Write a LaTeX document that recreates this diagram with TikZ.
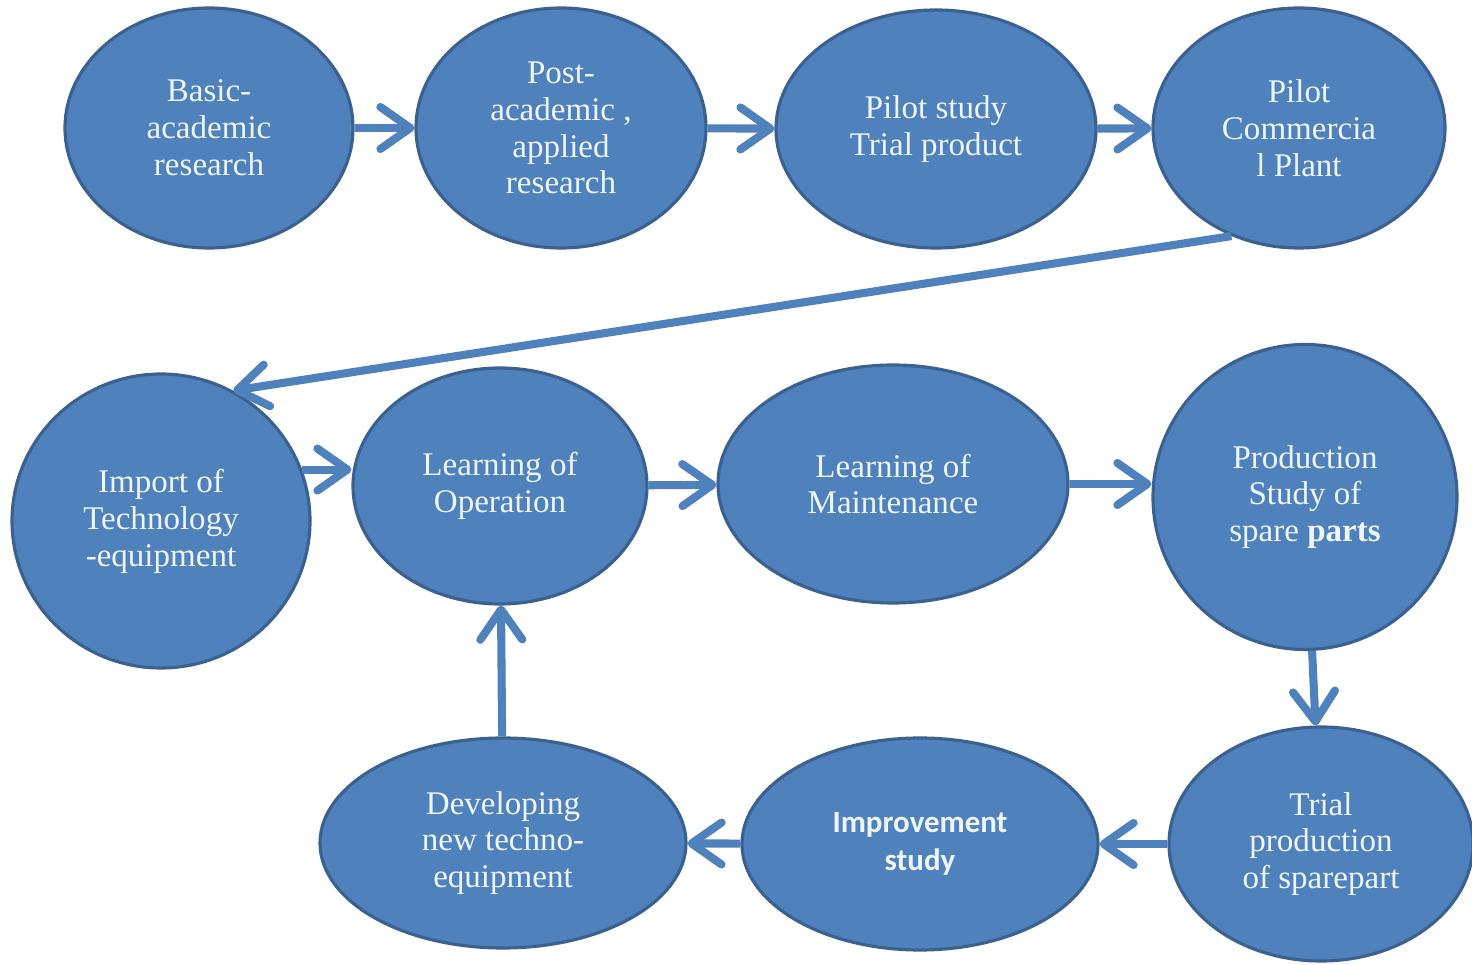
\documentclass[tikz,border=0pt]{standalone}
\usepackage{fontspec}
\setmainfont{Liberation Serif}
\newfontfamily\calfont{Carlito}
\usetikzlibrary{arrows.meta,shapes}
\definecolor{blobfill}{HTML}{4F81BD}
\definecolor{blobline}{HTML}{3A6190}
\definecolor{blobtext}{HTML}{EEF6FC}

\begin{document}
\begin{tikzpicture}

		\tikzstyle{every node}=[font=\fontsize{9.4}{10.5}\selectfont, text=blobtext, align=center]
		\tikzstyle{blob}=[ellipse, fill=blobfill, draw=blobline, line width=0.9pt, inner sep=0pt]
		\tikzstyle{flow}=[draw=blobfill, line width=2.3pt, -{Straight Barb[length=3mm, width=4.2mm, line cap=round, line join=round]}]

		%\draw[style=help lines, step=0.5, color=gray] (0,0) grid (14.72,9.64);
		\useasboundingbox (0,0) rectangle (14.72,9.64);

		% research row
		\node[blob, minimum width=2.88cm, minimum height=2.40cm] (bar) at (2.09,8.36) {Basic-\\academic\\research};
		\node[blob, minimum width=2.90cm, minimum height=2.40cm] (par) at (5.61,8.36) {Post-\\academic ,\\applied\\research};
		\node[blob, minimum width=3.20cm, minimum height=2.38cm] (pst) at (9.36,8.35) {Pilot study\\Trial product};
		\node[blob, minimum width=2.92cm, minimum height=2.40cm] (pcp) at (12.99,8.36) {Pilot\\Commercia\\l Plant};

		% learning row
		\node[blob, minimum width=2.98cm, minimum height=2.94cm] (imp) at (1.61,4.43) {Import of\\Technology\\-equipment};
		\node[blob, minimum width=2.94cm, minimum height=2.36cm] (lop) at (5.00,4.78) {Learning of\\Operation};
		\node[blob, minimum width=3.50cm, minimum height=2.38cm] (lma) at (8.93,4.80) {Learning of\\Maintenance};
		\node[blob, minimum width=3.04cm, minimum height=3.05cm] (psp) at (13.05,4.67) {Production\\Study of\\spare \textbf{parts}};

		% improvement row
		\node[blob, minimum width=3.04cm, minimum height=2.34cm] (tps) at (13.21,1.20) {Trial\\production\\of sparepart};
		\node[blob, minimum width=3.56cm, minimum height=2.12cm, font=\calfont\bfseries\fontsize{8.8}{10.6}\selectfont] (ims) at (9.20,1.20) {Improvement\\study};
		\node[blob, minimum width=3.66cm, minimum height=2.10cm] (dnt) at (5.03,1.21) {Developing\\new techno-\\equipment};

		%\draw[flow, red] (pcp.south) -- (imp.north);
		\draw[flow] (bar) -- (par);
		\draw[flow] (par) -- (pst);
		\draw[flow] (pst) -- (pcp);
		\draw[flow] (pcp.238) -- (imp.61);

		\draw[flow] (imp.20) -- (imp.20 -| lop.west);
		\draw[flow] (lop) -- (lma);
		\draw[flow] (lma.east) -- (lma.east -| psp.west);
		\draw[flow] (psp) -- (tps);

		\draw[flow] (tps) -- (ims);
		\draw[flow] (ims) -- (dnt);
		\draw[flow] (dnt) -- (lop);

\end{tikzpicture}
\end{document}
